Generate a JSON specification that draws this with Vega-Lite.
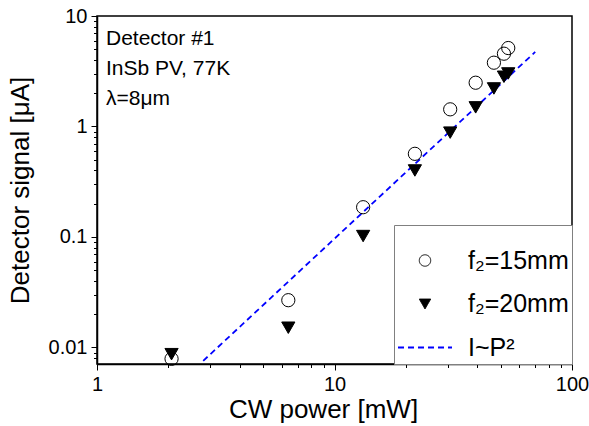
{
  "$schema": "https://vega.github.io/schema/vega-lite/v6.json",
  "width": 475,
  "height": 348,
  "autosize": {"type": "none"},
  "padding": {"left": 97, "top": 16, "right": 17, "bottom": 62},
  "background": "white",
  "config": {
    "font": "Liberation Sans",
    "view": {"stroke": "black", "strokeWidth": 1.5},
    "axis": {
      "grid": false,
      "domainColor": "black",
      "domainWidth": 1.5,
      "tickColor": "black",
      "tickWidth": 1,
      "labelColor": "black",
      "titleColor": "black",
      "labelFont": "Liberation Sans",
      "titleFont": "Liberation Sans",
      "titleFontWeight": "normal",
      "labelFontSize": 20,
      "titleFontSize": 26,
      "labelFlush": false,
      "labelOverlap": false
    }
  },
  "datasets": {
    "points": [
      {"series": "f₂=20mm", "power": 2.06, "signal": 0.0087},
      {"series": "f₂=20mm", "power": 6.39, "signal": 0.0151},
      {"series": "f₂=20mm", "power": 13.2, "signal": 0.102},
      {"series": "f₂=20mm", "power": 21.8, "signal": 0.40},
      {"series": "f₂=20mm", "power": 30.7, "signal": 0.88},
      {"series": "f₂=20mm", "power": 39.3, "signal": 1.49},
      {"series": "f₂=20mm", "power": 46.9, "signal": 2.21},
      {"series": "f₂=20mm", "power": 51.7, "signal": 2.82},
      {"series": "f₂=20mm", "power": 53.9, "signal": 3.02},
      {"series": "f₂=15mm", "power": 2.06, "signal": 0.0079},
      {"series": "f₂=15mm", "power": 6.39, "signal": 0.0268},
      {"series": "f₂=15mm", "power": 13.2, "signal": 0.186},
      {"series": "f₂=15mm", "power": 21.8, "signal": 0.566},
      {"series": "f₂=15mm", "power": 30.7, "signal": 1.43},
      {"series": "f₂=15mm", "power": 39.3, "signal": 2.49},
      {"series": "f₂=15mm", "power": 46.9, "signal": 3.78},
      {"series": "f₂=15mm", "power": 51.7, "signal": 4.56},
      {"series": "f₂=15mm", "power": 53.9, "signal": 5.13}
    ],
    "fit": [
      {"series": "I~P²", "power": 2.8, "signal": 0.00757},
      {"series": "I~P²", "power": 70, "signal": 4.73}
    ],
    "notes": [
      {"note": "Detector #1", "power": 1.091, "signal": 5.5},
      {"note": "InSb PV, 77K", "power": 1.091, "signal": 2.9},
      {"note": "λ=8μm", "power": 1.091, "signal": 1.56}
    ]
  },
  "encoding": {
    "x": {
      "field": "power",
      "type": "quantitative",
      "scale": {"type": "log", "domain": [1, 100], "nice": false},
      "axis": {
        "title": "CW power [mW]",
        "values": [1, 2, 3, 4, 5, 6, 7, 8, 9, 10, 20, 30, 40, 50, 60, 70, 80, 90, 100],
        "labelExpr": "indexof([1, 10, 100], datum.value) >= 0 ? datum.value + '' : ''",
        "tickSize": {"condition": {"test": "indexof([1, 10, 100], datum.value) >= 0", "value": 6}, "value": 3.5},
        "labelPadding": 4,
        "titlePadding": 2,
        "titleX": 226
      }
    },
    "y": {
      "field": "signal",
      "type": "quantitative",
      "scale": {"type": "log", "domain": [0.00709, 10], "nice": false},
      "axis": {
        "title": "Detector signal [μA]",
        "values": [0.008, 0.009, 0.01, 0.02, 0.03, 0.04, 0.05, 0.06, 0.07, 0.08, 0.09, 0.1, 0.2, 0.3, 0.4, 0.5, 0.6, 0.7, 0.8, 0.9, 1, 2, 3, 4, 5, 6, 7, 8, 9, 10],
        "labelExpr": "indexof([0.01, 0.1, 1, 10], datum.value) >= 0 ? datum.value + '' : ''",
        "tickSize": {"condition": {"test": "indexof([0.01, 0.1, 1, 10], datum.value) >= 0", "value": 6}, "value": 3.5},
        "labelPadding": 4,
        "titlePadding": 15
      }
    }
  },
  "layer": [
    {
      "data": {"name": "fit"},
      "mark": {"type": "line", "strokeWidth": 1.8, "clip": true},
      "encoding": {
        "stroke": {
          "field": "series", "type": "nominal",
          "scale": {"domain": ["f₂=15mm", "f₂=20mm", "I~P²"], "range": ["black", "black", "#0000ff"]},
          "legend": {
            "title": " ",
            "orient": "bottom-right",
            "offset": 0,
            "padding": 3,
            "strokeColor": "#808080",
            "fillColor": "white",
            "symbolSize": 130,
            "symbolStrokeWidth": 1,
            "symbolOffset": 15.5,
            "labelOffset": 30.5,
            "labelFontSize": 25,
            "labelFont": "Liberation Sans",
            "labelColor": "black",
            "labelLimit": 300,
            "rowPadding": 17.5,
            "titleFontSize": 14,
            "titlePadding": 6,
            "encode": {"symbols": {"update": {"size": {"signal": "datum.value === 'I~P²' ? 2916 : 130"}, "strokeWidth": {"signal": "datum.value === 'I~P²' ? 1.8 : 1"}}}}
          }
        },
        "strokeDash": {
          "field": "series", "type": "nominal",
          "scale": {"domain": ["f₂=15mm", "f₂=20mm", "I~P²"], "range": [[1, 0], [1, 0], [6, 4]]}
        }
      }
    },
    {
      "data": {"name": "points"},
      "mark": {"type": "point", "size": 175, "strokeWidth": 1, "opacity": 1},
      "encoding": {
        "shape": {
          "field": "series", "type": "nominal",
          "scale": {"domain": ["f₂=15mm", "f₂=20mm", "I~P²"], "range": ["circle", "triangle-down", "stroke"]}
        },
        "fill": {
          "field": "series", "type": "nominal",
          "scale": {"domain": ["f₂=15mm", "f₂=20mm", "I~P²"], "range": ["transparent", "black", "transparent"]}
        },
        "stroke": {
          "field": "series", "type": "nominal",
          "scale": {"domain": ["f₂=15mm", "f₂=20mm", "I~P²"], "range": ["black", "black", "#0000ff"]}
        }
      }
    },
    {
      "data": {"name": "notes"},
      "mark": {"type": "text", "align": "left", "baseline": "alphabetic", "fontSize": 21, "color": "black", "font": "Liberation Sans"},
      "encoding": {"text": {"field": "note", "type": "nominal"}}
    }
  ]
}
